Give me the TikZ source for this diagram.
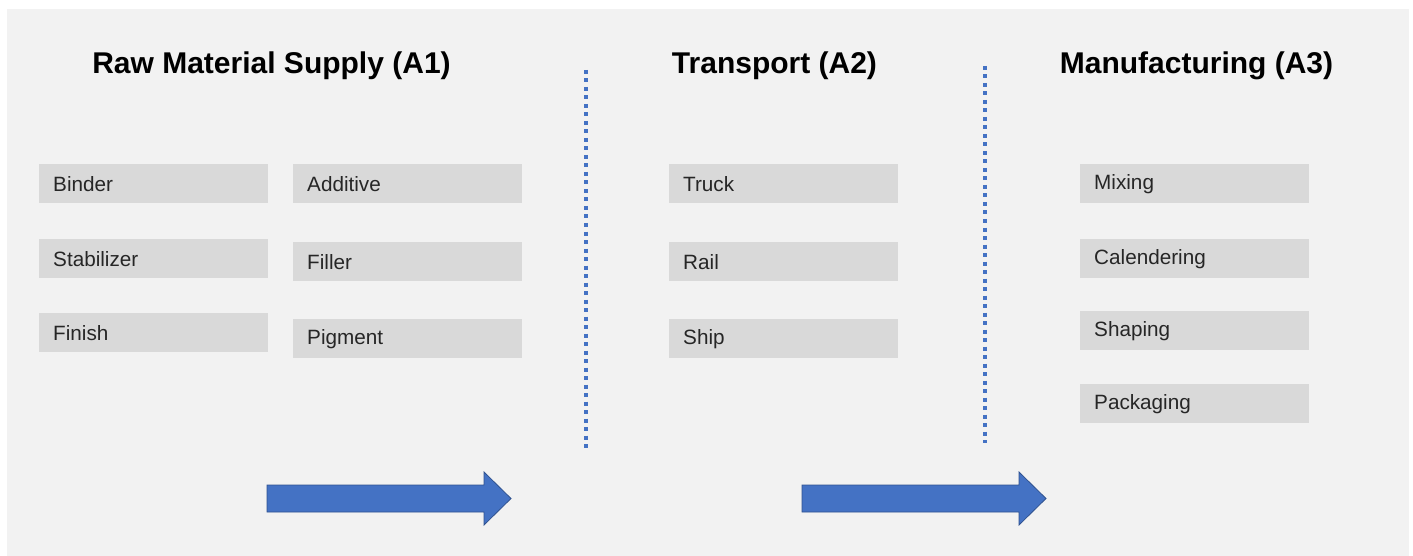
\documentclass[tikz,border=0pt]{standalone}
\usepackage{fontspec}
\setmainfont{Liberation Sans}
\definecolor{bg}{HTML}{F2F2F2}
\definecolor{boxgrey}{HTML}{D9D9D9}
\definecolor{txt}{HTML}{262626}
\definecolor{blue1}{HTML}{4472C4}
\definecolor{blue2}{HTML}{2F528F}
\begin{document}
\begin{tikzpicture}[x=1pt,y=-1pt,
  itembox/.style={fill=boxgrey, draw=none, minimum width=229pt, minimum height=39pt,
    anchor=north west, inner xsep=14pt, inner ysep=0pt, text width=229pt-28pt, align=left,
    font=\fontsize{20.7}{24}\selectfont, text=txt},
  title/.style={font=\fontsize{30}{36}\bfseries\selectfont, text=black, anchor=center},
  sep/.style={draw=blue1, line width=3.5pt, dash pattern=on 4pt off 4.5pt},
  bigarrow/.style={fill=blue1, draw=blue2, line width=0.8pt, line join=miter}]
\useasboundingbox (0,0) rectangle (1413,556);
\fill[white] (0,0) rectangle (1413,556);
\fill[bg] (7,9) rectangle (1409,556);

% titles
\node[title] (t1) at (271.5,66) {Raw Material Supply (A1)};
\node[title] (t2) at (774.5,66) {Transport (A2)};
\node[title] (t3) at (1196.5,66) {Manufacturing (A3)};

% Raw material column 1
\node[itembox] (binder) at (39,164) {Binder};
\node[itembox] (stab) at (39,239) {Stabilizer};
\node[itembox] (finish) at (39,313) {Finish};
% column 2
\node[itembox] (add) at (293,164) {Additive};
\node[itembox] (filler) at (293,242) {Filler};
\node[itembox] (pig) at (293,319) {Pigment};
% transport
\node[itembox] (truck) at (669,164) {Truck};
\node[itembox] (rail) at (669,242) {Rail};
\node[itembox] (ship) at (669,319) {Ship};
% manufacturing
\node[itembox] (mix) at (1080,164) {Mixing};
\node[itembox] (cal) at (1080,239) {Calendering};
\node[itembox] (shape) at (1080,311) {Shaping};
\node[itembox] (pack) at (1080,384) {Packaging};

% separators
\coordinate (s1a) at (586,70);
\coordinate (s1b) at (586,448);
\coordinate (s2a) at (985,66);
\coordinate (s2b) at (985,443);
\draw[sep] (s1a) -- (s1b);
\draw[sep] (s2a) -- (s2b);

% big arrows
\draw[bigarrow] (267,485) -- (484,485) -- (484,472) -- (511,498.5) -- (484,525) -- (484,512) -- (267,512) -- cycle;
\draw[bigarrow] (802,485) -- (1019,485) -- (1019,472) -- (1046,498.5) -- (1019,525) -- (1019,512) -- (802,512) -- cycle;
\end{tikzpicture}
\end{document}
